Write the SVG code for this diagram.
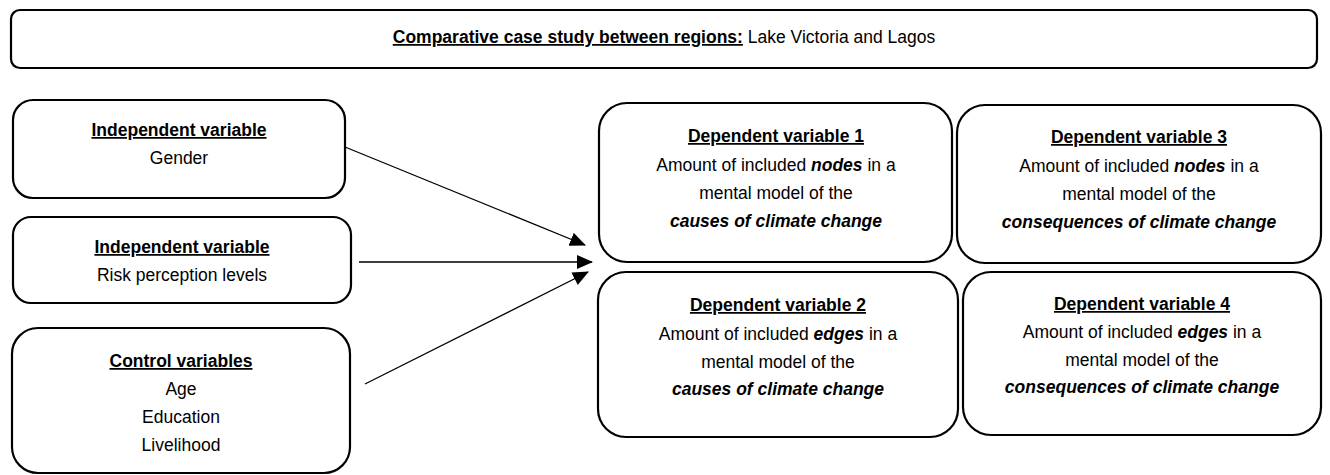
<svg xmlns="http://www.w3.org/2000/svg" width="1330" height="475" viewBox="0 0 1330 475">
<style>
.box{fill:#fff;stroke:#000;stroke-width:2.2}
.t{font-family:"Liberation Sans",Arial,sans-serif;font-size:17.5px;fill:#000;text-anchor:middle}
.h{font-weight:bold;text-decoration:underline}
.bi{font-weight:bold;font-style:italic}
.c{stroke:#000;stroke-width:1.3;fill:none}
</style>
<defs>
<marker id="ah" markerWidth="16" markerHeight="14" refX="15" refY="7" orient="auto" markerUnits="userSpaceOnUse">
<path d="M0,0 L16,7 L0,14 Z" fill="#000"/>
</marker>
</defs>
<rect width="1330" height="475" fill="#fff"/>
<g id="title">
<rect class="box" x="11" y="10" width="1306" height="58" rx="9"/>
<text class="t" x="664" y="43"><tspan class="h">Comparative case study between regions:</tspan> Lake Victoria and Lagos</text>
</g>
<g id="iv1">
<rect class="box" x="13" y="100" width="332" height="98" rx="20"/>
<text class="t" x="179" y="136"><tspan class="h">Independent variable</tspan></text>
<text class="t" x="179" y="164">Gender</text>
</g>
<g id="iv2">
<rect class="box" x="13" y="217" width="338" height="86" rx="18"/>
<text class="t" x="182" y="253"><tspan class="h">Independent variable</tspan></text>
<text class="t" x="182" y="281">Risk perception levels</text>
</g>
<g id="cv">
<rect class="box" x="12" y="328" width="338" height="145" rx="26"/>
<text class="t" x="181" y="367"><tspan class="h">Control variables</tspan></text>
<text class="t" x="181" y="395">Age</text>
<text class="t" x="181" y="423">Education</text>
<text class="t" x="181" y="451">Livelihood</text>
</g>
<g id="dv1">
<rect class="box" x="599" y="103" width="353" height="159" rx="28"/>
<text class="t" x="776" y="142"><tspan class="h">Dependent variable 1</tspan></text>
<text class="t" x="776" y="171">Amount of included <tspan class="bi">nodes</tspan> in a</text>
<text class="t" x="776" y="199">mental model of the</text>
<text class="t" x="776" y="227"><tspan class="bi">causes of climate change</tspan></text>
</g>
<g id="dv3">
<rect class="box" x="957" y="105" width="364" height="158" rx="28"/>
<text class="t" x="1139" y="143"><tspan class="h">Dependent variable 3</tspan></text>
<text class="t" x="1139" y="172">Amount of included <tspan class="bi">nodes</tspan> in a</text>
<text class="t" x="1139" y="200">mental model of the</text>
<text class="t" x="1139" y="228"><tspan class="bi">consequences of climate change</tspan></text>
</g>
<g id="dv2">
<rect class="box" x="598" y="272" width="360" height="165" rx="28"/>
<text class="t" x="778" y="311"><tspan class="h">Dependent variable 2</tspan></text>
<text class="t" x="778" y="340">Amount of included <tspan class="bi">edges</tspan> in a</text>
<text class="t" x="778" y="368">mental model of the</text>
<text class="t" x="778" y="395"><tspan class="bi">causes of climate change</tspan></text>
</g>
<g id="dv4">
<rect class="box" x="963" y="272" width="358" height="163" rx="28"/>
<text class="t" x="1142" y="310"><tspan class="h">Dependent variable 4</tspan></text>
<text class="t" x="1142" y="338">Amount of included <tspan class="bi">edges</tspan> in a</text>
<text class="t" x="1142" y="366">mental model of the</text>
<text class="t" x="1142" y="393"><tspan class="bi">consequences of climate change</tspan></text>
</g>
<g id="connectors">
<line class="c" x1="345" y1="147" x2="585" y2="245" marker-end="url(#ah)"/>
<line class="c" x1="359" y1="262" x2="592" y2="262" marker-end="url(#ah)"/>
<line class="c" x1="365" y1="384" x2="588" y2="272" marker-end="url(#ah)"/>
</g>
</svg>
